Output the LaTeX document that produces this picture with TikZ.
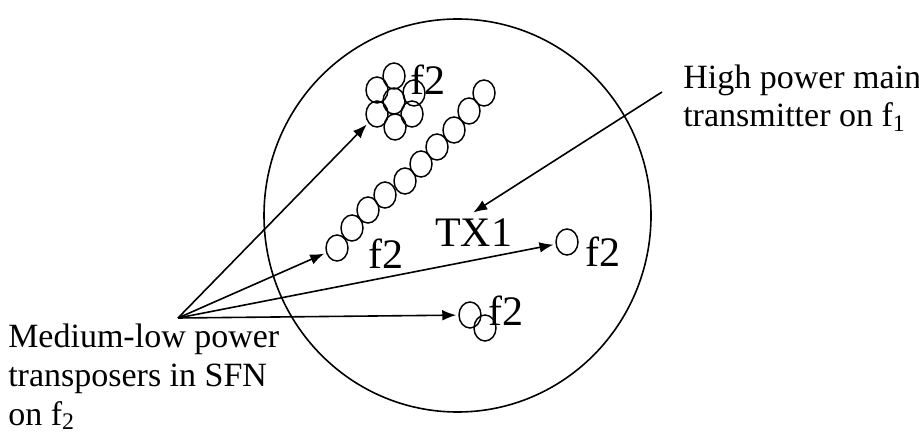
\documentclass[tikz,border=0pt]{standalone}
\usepackage{fontspec}
\setmainfont{Liberation Serif}
\usetikzlibrary{shapes.geometric,arrows.meta}

\begin{document}
\begin{tikzpicture}[x=0.75pt, y=-0.75pt,
    cell/.style={draw, ellipse, line width=1.1pt, minimum width=16.5pt,
      minimum height=19.5pt, inner sep=0pt},
    freqlbl/.style={font=\fontsize{31.5}{34}\selectfont, anchor=base west, inner sep=0pt},
    notelbl/.style={font=\fontsize{25.5}{29}\selectfont, align=left,
      anchor=base west, inner sep=0pt},
    feed/.style={line width=1.2pt, -{Latex[length=10.5pt, width=8pt]}, shorten >=1.5pt}
  ]
  \useasboundingbox (0,0) rectangle (919,434);
  \draw[line width=1.2pt] (457.5,215.5) ellipse [x radius=193.5, y radius=196.5];
  % coverage cells
  \foreach \i/\x/\y in {1/394/76, 2/377/90, 3/414/93, 4/394/101,
    5/377/114, 6/412/114, 7/395/127} {
    \node[cell] (cl\i) at (\x,\y) {};
  }
  \foreach \i/\x/\y in {1/337/248, 2/352/228, 3/368/210, 4/385/195,
    5/405/181, 6/421/164, 7/437/147, 8/454/130, 9/469/111, 10/484/93} {
    \node[cell] (ch\i) at (\x,\y) {};
  }
  \node[cell] (lone) at (567,242) {};
  \node[cell] (pr1) at (470,315) {};
  \node[cell] (pr2) at (485,328) {};
  \node[freqlbl] (fcl) at (410,95) {f2};
  \node[freqlbl] (fch) at (368,268) {f2};
  \node[freqlbl] (flone) at (585,267) {f2};
  \node[freqlbl] (fpr) at (488,325) {f2};
  \node[freqlbl] (tx1) at (435,247) {TX1};
  % annotations
  \node[notelbl] (hpnote) at (683,127) {High power main\\transmitter on f\textsubscript{1}};
  \node[notelbl] (mlnote) at (8,425) {Medium-low power\\transposers in SFN\\on f\textsubscript{2}};
  \coordinate (src) at (178,318);
  \coordinate (hp) at (662,92);
  \draw[feed] (src) -- (cl5);
  \draw[feed] (src) -- (ch1);
  \draw[feed] (src) -- (lone);
  \draw[feed] (src) -- (pr1);
  \draw[feed, shorten >=9pt] (hp) -- ([xshift=-8pt]tx1.north);
\end{tikzpicture}
\end{document}
